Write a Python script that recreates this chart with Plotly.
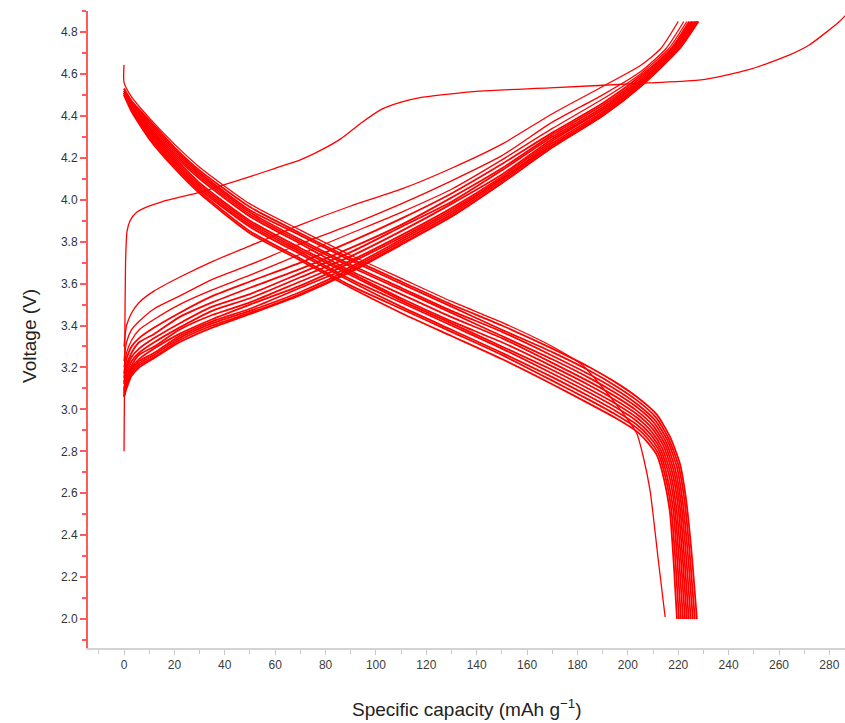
import plotly.graph_objects as go

# ---------------- data ----------------
# first cycle
first_charge_q = [0, 0.3, 0.6, 1.2, 2.4, 5, 8, 15, 30, 38, 50, 60, 70, 78, 86, 94, 102, 110,
                  118, 141, 169, 208, 229, 248, 264, 272, 284, 288]
first_charge_v = [2.80, 3.30, 3.70, 3.85, 3.90, 3.94, 3.96, 3.99, 4.035, 4.065, 4.11, 4.15, 4.19,
                  4.235, 4.29, 4.365, 4.43, 4.465, 4.488, 4.518, 4.533, 4.557, 4.571, 4.62, 4.69,
                  4.738, 4.85, 4.90]
first_discharge_q = [0, 0, 3, 10, 20, 30, 50, 70, 90, 110, 130, 150, 170, 182, 195, 203.5, 206,
                     208.8, 212, 214.8]
first_discharge_v = [4.643, 4.56, 4.49, 4.39, 4.265, 4.155, 3.98, 3.855, 3.735, 3.625, 3.515,
                     3.415, 3.30, 3.21, 3.03, 2.886, 2.78, 2.615, 2.29, 2.01]

# later charge curves: voltage at a common capacity grid, then a tail to 4.85 V
charge_q_grid = [0, 1, 3, 6, 12, 22, 35, 50, 70, 90, 110, 130, 150, 170, 190, 205]
charge_tail_v = [4.72, 4.85]
ch02 = [3.30, 3.40, 3.46, 3.51, 3.565, 3.63, 3.705, 3.78, 3.88, 3.97, 4.05, 4.15, 4.265, 4.41, 4.54, 4.64]
ch03 = [3.23, 3.32, 3.38, 3.42, 3.48, 3.54, 3.62, 3.69, 3.79, 3.88, 3.98, 4.09, 4.21, 4.37, 4.50, 4.61]
ch04 = [3.20, 3.27, 3.33, 3.38, 3.43, 3.50, 3.57, 3.64, 3.74, 3.84, 3.94, 4.05, 4.19, 4.34, 4.48, 4.60]
ch05 = [3.17, 3.24, 3.30, 3.34, 3.39, 3.46, 3.54, 3.61, 3.70, 3.80, 3.91, 4.03, 4.17, 4.32, 4.46, 4.59]
ch06 = [3.15, 3.21, 3.27, 3.32, 3.36, 3.44, 3.51, 3.58, 3.67, 3.77, 3.88, 4.01, 4.15, 4.31, 4.45, 4.58]
ch07 = [3.13, 3.19, 3.25, 3.29, 3.34, 3.41, 3.49, 3.55, 3.65, 3.75, 3.87, 3.99, 4.14, 4.30, 4.44, 4.57]
ch08 = [3.12, 3.17, 3.23, 3.27, 3.32, 3.39, 3.47, 3.53, 3.63, 3.73, 3.85, 3.98, 4.12, 4.29, 4.43, 4.56]
ch09 = [3.10, 3.15, 3.21, 3.26, 3.30, 3.38, 3.45, 3.51, 3.61, 3.71, 3.83, 3.96, 4.11, 4.28, 4.43, 4.56]
ch10 = [3.09, 3.14, 3.20, 3.24, 3.29, 3.36, 3.43, 3.50, 3.59, 3.70, 3.82, 3.95, 4.10, 4.27, 4.42, 4.55]
ch11 = [3.08, 3.13, 3.19, 3.23, 3.27, 3.35, 3.42, 3.48, 3.58, 3.68, 3.81, 3.94, 4.10, 4.26, 4.41, 4.55]
ch12 = [3.07, 3.12, 3.18, 3.22, 3.26, 3.34, 3.41, 3.47, 3.56, 3.67, 3.80, 3.93, 4.09, 4.26, 4.41, 4.55]
ch13 = [3.06, 3.11, 3.17, 3.21, 3.25, 3.33, 3.40, 3.46, 3.55, 3.66, 3.79, 3.92, 4.08, 4.25, 4.40, 4.54]
ch14 = [3.06, 3.10, 3.16, 3.20, 3.245, 3.32, 3.39, 3.455, 3.545, 3.655, 3.785, 3.92, 4.08, 4.25, 4.40, 4.54]
ch_tail_q02 = [213.0, 220.0]
ch_tail_q03 = [215.1, 222.2]
ch_tail_q04 = [216.2, 223.4]
ch_tail_q05 = [217.1, 224.3]
ch_tail_q06 = [217.7, 225.0]
ch_tail_q07 = [218.3, 225.6]
ch_tail_q08 = [218.7, 226.1]
ch_tail_q09 = [219.2, 226.6]
ch_tail_q10 = [219.5, 227.0]
ch_tail_q11 = [219.8, 227.3]
ch_tail_q12 = [220.1, 227.6]
ch_tail_q13 = [220.4, 227.8]
ch_tail_q14 = [220.5, 228.0]

# later discharge curves: voltage at a common capacity grid, then the knee (q, v) per curve
discharge_q_grid = [0, 3, 10, 20, 30, 50, 70, 90, 110, 130, 150, 170, 185, 195]
dc02 = [4.53, 4.47, 4.38, 4.25, 4.14, 3.965, 3.84, 3.72, 3.61, 3.50, 3.40, 3.29, 3.20, 3.13]
dc03 = [4.53, 4.47, 4.37, 4.24, 4.13, 3.95, 3.83, 3.71, 3.60, 3.49, 3.38, 3.273, 3.183, 3.113]
dc04 = [4.52, 4.46, 4.36, 4.23, 4.12, 3.94, 3.81, 3.69, 3.58, 3.47, 3.37, 3.256, 3.165, 3.096]
dc05 = [4.52, 4.46, 4.35, 4.22, 4.11, 3.93, 3.80, 3.68, 3.57, 3.46, 3.35, 3.239, 3.148, 3.079]
dc06 = [4.52, 4.45, 4.34, 4.21, 4.10, 3.92, 3.79, 3.66, 3.55, 3.44, 3.34, 3.222, 3.13, 3.062]
dc07 = [4.51, 4.44, 4.33, 4.20, 4.08, 3.90, 3.77, 3.65, 3.53, 3.42, 3.32, 3.205, 3.113, 3.045]
dc08 = [4.51, 4.44, 4.33, 4.19, 4.07, 3.89, 3.76, 3.64, 3.52, 3.41, 3.30, 3.188, 3.095, 3.028]
dc09 = [4.51, 4.44, 4.32, 4.18, 4.06, 3.88, 3.75, 3.62, 3.51, 3.40, 3.29, 3.171, 3.078, 3.011]
dc10 = [4.51, 4.43, 4.31, 4.17, 4.05, 3.87, 3.74, 3.61, 3.49, 3.38, 3.27, 3.154, 3.06, 2.994]
dc11 = [4.50, 4.43, 4.30, 4.16, 4.04, 3.85, 3.72, 3.59, 3.48, 3.37, 3.26, 3.137, 3.043, 2.977]
dc12 = [4.50, 4.42, 4.29, 4.15, 4.03, 3.84, 3.71, 3.58, 3.46, 3.35, 3.24, 3.12, 3.025, 2.96]
dc_knee_q02 = [203.5, 211.5, 216.7, 220.7, 223.0, 225.2, 227.4]
dc_knee_v02 = [3.06, 2.975, 2.87, 2.74, 2.58, 2.33, 2.0]
dc_knee_q03 = [203.5, 211.15, 216.2, 220.1, 222.4, 224.5, 226.6]
dc_knee_v03 = [3.044, 2.962, 2.861, 2.732, 2.573, 2.322, 2.0]
dc_knee_q04 = [203.5, 210.8, 215.7, 219.5, 221.7, 223.8, 225.8]
dc_knee_v04 = [3.027, 2.948, 2.852, 2.724, 2.566, 2.314, 2.0]
dc_knee_q05 = [203.5, 210.45, 215.2, 218.8, 221.1, 223.1, 225.0]
dc_knee_v05 = [3.011, 2.935, 2.843, 2.716, 2.559, 2.306, 2.0]
dc_knee_q06 = [203.5, 210.1, 214.7, 218.2, 220.5, 222.4, 224.2]
dc_knee_v06 = [2.994, 2.921, 2.834, 2.708, 2.552, 2.298, 2.0]
dc_knee_q07 = [203.5, 209.75, 214.2, 217.6, 219.9, 221.75, 223.45]
dc_knee_v07 = [2.978, 2.908, 2.825, 2.70, 2.545, 2.29, 2.0]
dc_knee_q08 = [203.5, 209.4, 213.6, 217.0, 219.2, 221.1, 222.7]
dc_knee_v08 = [2.961, 2.894, 2.816, 2.692, 2.538, 2.282, 2.0]
dc_knee_q09 = [203.5, 209.05, 213.1, 216.4, 218.6, 220.4, 221.9]
dc_knee_v09 = [2.945, 2.881, 2.807, 2.684, 2.531, 2.274, 2.0]
dc_knee_q10 = [203.5, 208.7, 212.6, 215.7, 218.0, 219.7, 221.1]
dc_knee_v10 = [2.928, 2.867, 2.798, 2.676, 2.524, 2.266, 2.0]
dc_knee_q11 = [203.5, 208.35, 212.1, 215.1, 217.3, 219.0, 220.3]
dc_knee_v11 = [2.912, 2.854, 2.789, 2.668, 2.517, 2.258, 2.0]
dc_knee_q12 = [203.5, 208.0, 211.6, 214.5, 216.7, 218.3, 219.5]
dc_knee_v12 = [2.895, 2.84, 2.78, 2.66, 2.51, 2.25, 2.0]

x_title = "Specific capacity (mAh g<sup>\u22121</sup>)"
y_title = "Voltage (V)"

# ---------------- figure ----------------
RED = "#ff0000"
LW = 1.8
fig = go.Figure()


def add_curve(q, v, width=LW):
    fig.add_trace(go.Scatter(x=q, y=v, mode="lines",
                             line=dict(color=RED, width=width, shape="spline", smoothing=0.6),
                             hoverinfo="skip", showlegend=False))


charges = [(ch02, ch_tail_q02), (ch03, ch_tail_q03), (ch04, ch_tail_q04), (ch05, ch_tail_q05),
           (ch06, ch_tail_q06), (ch07, ch_tail_q07), (ch08, ch_tail_q08), (ch09, ch_tail_q09),
           (ch10, ch_tail_q10), (ch11, ch_tail_q11), (ch12, ch_tail_q12), (ch13, ch_tail_q13),
           (ch14, ch_tail_q14)]
for i, (v, tq) in enumerate(charges):
    add_curve(charge_q_grid + tq, v + charge_tail_v, width=1.3 if i < 3 else LW)

discharges = [(dc02, dc_knee_q02, dc_knee_v02), (dc03, dc_knee_q03, dc_knee_v03),
              (dc04, dc_knee_q04, dc_knee_v04), (dc05, dc_knee_q05, dc_knee_v05),
              (dc06, dc_knee_q06, dc_knee_v06), (dc07, dc_knee_q07, dc_knee_v07),
              (dc08, dc_knee_q08, dc_knee_v08), (dc09, dc_knee_q09, dc_knee_v09),
              (dc10, dc_knee_q10, dc_knee_v10), (dc11, dc_knee_q11, dc_knee_v11),
              (dc12, dc_knee_q12, dc_knee_v12)]
for v, kq, kv in discharges:
    add_curve(discharge_q_grid + kq, v + kv)

add_curve(first_charge_q, first_charge_v, width=1.3)
add_curve(first_discharge_q, first_discharge_v, width=1.3)

FONT = "Arial, 'Liberation Sans', sans-serif"
fig.update_layout(
    width=845, height=723,
    margin=dict(l=88, r=0, t=11, b=75),
    paper_bgcolor="white", plot_bgcolor="white",
    font=dict(family=FONT, color="#3a3a3a", size=12),
    xaxis=dict(range=[-14.3, 286.2], showgrid=False, zeroline=False,
               showline=True, linecolor="#d4d4d4", linewidth=2,
               ticks="outside", ticklen=5, tickcolor="#c8c8c8", tickwidth=1,
               tick0=0, dtick=20,
               minor=dict(dtick=10, ticks="outside", ticklen=4, tickcolor="#c8c8c8"),
               tickfont=dict(size=12, color="#3c3c3c")),
    yaxis=dict(range=[1.862, 4.9], showgrid=False, zeroline=False,
               showline=True, linecolor="#ff5a5a", linewidth=2,
               ticks="outside", ticklen=6, tickcolor="#ff5a5a", tickwidth=1.5,
               tick0=2.0, dtick=0.2, tickformat=".1f",
               minor=dict(dtick=0.1, ticks="outside", ticklen=4, tickcolor="#ff5a5a"),
               tickfont=dict(size=12, color="#333333")),
    annotations=[
        dict(text=x_title, xref="paper", yref="paper", x=0.5, y=-0.094,
             xanchor="center", yanchor="middle", showarrow=False,
             font=dict(size=19, color="#222222", family=FONT)),
        dict(text=y_title, xref="paper", yref="paper", x=-0.0766, y=0.49,
             xanchor="center", yanchor="middle", showarrow=False, textangle=-90,
             font=dict(size=19, color="#222222", family=FONT)),
    ],
)

fig.write_html("out.html")
